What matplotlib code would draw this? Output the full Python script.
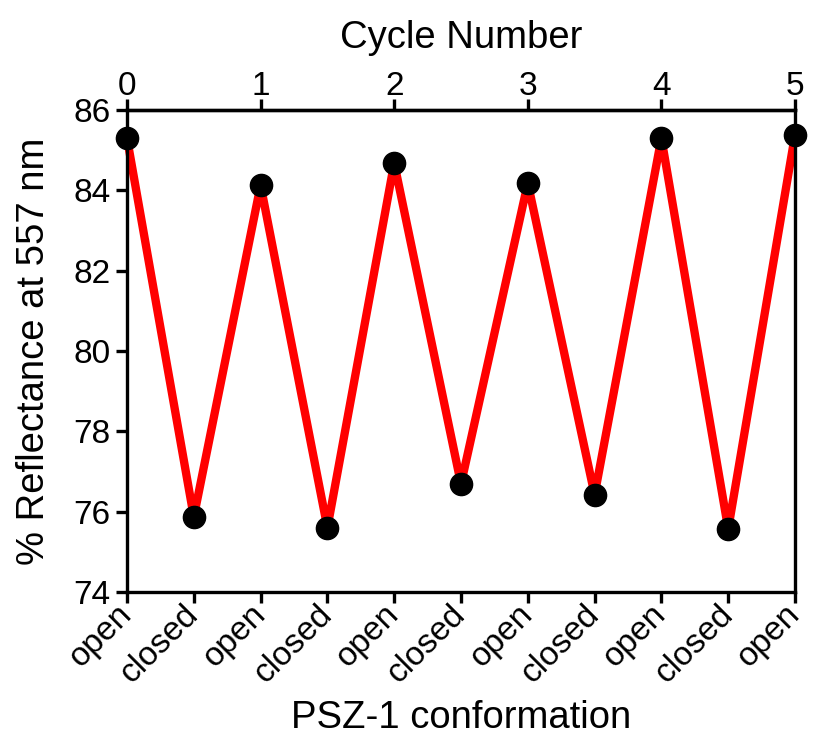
import matplotlib
matplotlib.use("Agg")
import matplotlib.pyplot as plt

plt.rcParams['font.family'] = ['Liberation Sans', 'DejaVu Sans']

# Reflectance at 557 nm across switching half-cycles
cycle_pos = [0, 0.5, 1, 1.5, 2, 2.5, 3, 3.5, 4, 4.5, 5]
reflectance = [85.3, 75.87, 84.13, 75.6, 84.68, 76.69, 84.18, 76.42, 85.3, 75.57, 85.38]
states = ["open", "closed", "open", "closed", "open", "closed",
          "open", "closed", "open", "closed", "open"]
cycle_ticks = [0, 1, 2, 3, 4, 5]
y_ticks = [74, 76, 78, 80, 82, 84, 86]

fig = plt.figure(figsize=(8.14, 7.44), dpi=100)
ax = fig.add_axes([127/814, 1 - 592/744, (795 - 127)/814, (592 - 110)/744])

ax.plot(cycle_pos, reflectance, color='#ff0000', lw=6, zorder=2, clip_on=False)
ax.plot(cycle_pos, reflectance, 'o', color='black', ms=16, zorder=3, clip_on=False)

ax.set_xlim(0, 5)
ax.set_ylim(74, 86)
ax.set_yticks(y_ticks)
ax.set_xticks(cycle_pos)
ax.set_xticklabels(states, rotation=45, ha='right', va='center', rotation_mode='anchor')

for s in ax.spines.values():
    s.set_linewidth(2.4)
ax.tick_params(axis='both', direction='out', length=8, width=2.4, labelsize=24)
ax.tick_params(axis='x', pad=5)
ax.tick_params(axis='y', pad=4)
ax.set_ylabel('% Reflectance at 557 nm', fontsize=27.5, labelpad=15)
ax.set_xlabel('PSZ-1 conformation', fontsize=27.5, labelpad=8)

top = ax.secondary_xaxis('top')
top.set_xticks(cycle_ticks)
top.tick_params(direction='out', length=8, width=2.4, labelsize=24, pad=-2)
top.spines['top'].set_linewidth(2.4)
top.set_xlabel('Cycle Number', fontsize=27.5, labelpad=16)

fig.savefig('out.png', dpi=100)
